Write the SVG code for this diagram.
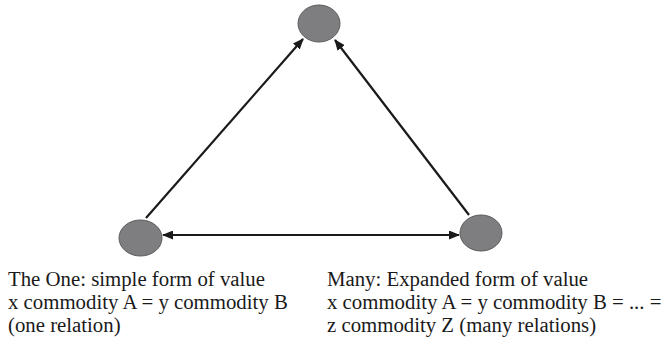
<svg xmlns="http://www.w3.org/2000/svg" width="664" height="342" viewBox="0 0 664 342">
<style>
.node{fill:#7e7e80;stroke:#5c5c5e;stroke-width:1}
.edge{stroke:#1a1a1a;stroke-width:2.2;fill:none}
.lbl{font-family:"Liberation Serif","Times New Roman",serif;font-size:20.8px;fill:#1a1a1a}
</style>
<defs>
<marker id="ah" markerWidth="11" markerHeight="9" refX="10" refY="4.5" orient="auto" markerUnits="userSpaceOnUse">
<path d="M0,0 L11,4.5 L0,9 Z" fill="#1a1a1a"/>
</marker>
<marker id="ahs" markerWidth="11" markerHeight="9" refX="1" refY="4.5" orient="auto" markerUnits="userSpaceOnUse">
<path d="M11,0 L0,4.5 L11,9 Z" fill="#1a1a1a"/>
</marker>
</defs>
<rect width="664" height="342" fill="#ffffff"/>
<g id="connectors">
<line class="edge" x1="146" y1="218" x2="303" y2="39" marker-end="url(#ah)"/>
<line class="edge" x1="469" y1="215" x2="335" y2="40" marker-end="url(#ah)"/>
<line class="edge" x1="163" y1="235" x2="459" y2="235" marker-start="url(#ahs)" marker-end="url(#ah)"/>
</g>
<g id="top"><ellipse class="node" cx="319" cy="23.5" rx="21" ry="18.5"/></g>
<g id="one"><ellipse class="node" cx="140.5" cy="238" rx="21.5" ry="18"/>
<text class="lbl" x="8" y="286">The One: simple form of value</text>
<text class="lbl" x="8" y="309">x commodity A = y commodity B</text>
<text class="lbl" x="8" y="332">(one relation)</text>
</g>
<g id="many"><ellipse class="node" cx="481" cy="233" rx="21" ry="18"/>
<text class="lbl" x="327" y="286">Many: Expanded form of value</text>
<text class="lbl" x="327" y="309">x commodity A = y commodity B = ... =</text>
<text class="lbl" x="327" y="332">z commodity Z (many relations)</text>
</g>
</svg>
